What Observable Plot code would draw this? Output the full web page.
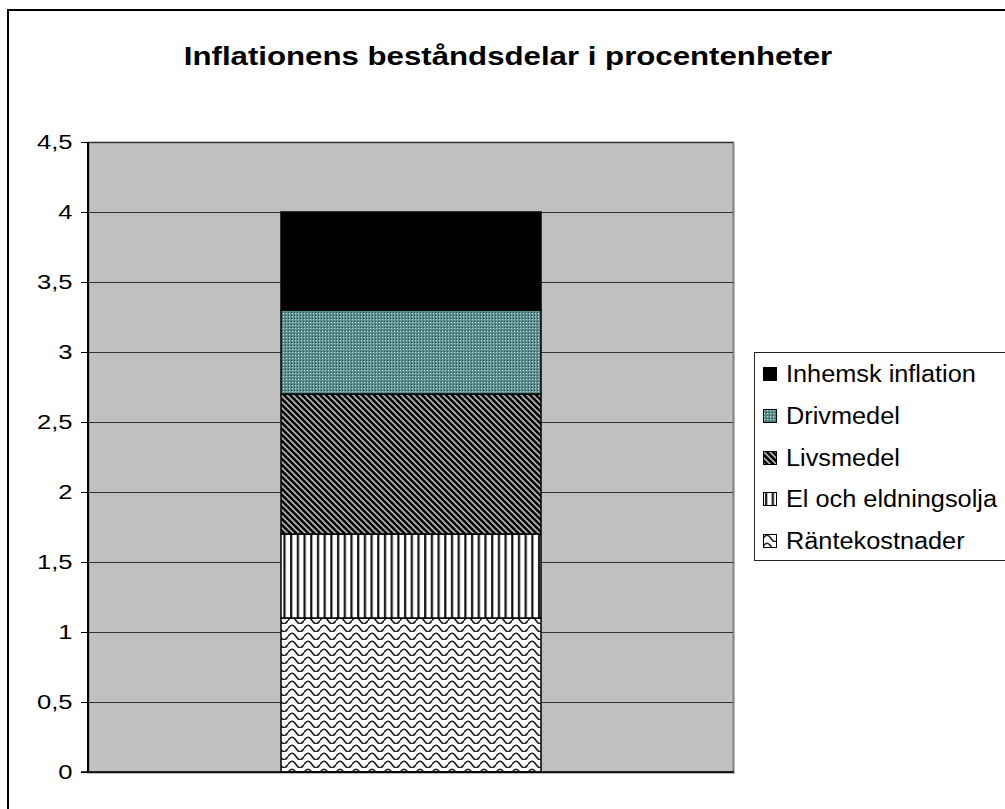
<!DOCTYPE html>
<html>
<head>
<meta charset="utf-8">
<script src="https://cdn.jsdelivr.net/npm/d3@7"></script>
<script src="https://cdn.jsdelivr.net/npm/@observablehq/plot@0.6"></script>
<style>
  html, body { margin: 0; padding: 0; background: #fff; overflow: hidden; }
  #wrap { position: relative; width: 1005px; height: 809px; overflow: hidden; font-family: "Liberation Sans", Arial, sans-serif; }
  #border { position: absolute; left: 7px; top: 9px; width: 1100px; height: 900px; border: 2px solid #000; box-sizing: border-box; pointer-events: none; }
  #title { position: absolute; left: 7px; width: 1002px; top: 40px; text-align: center; font-weight: bold; font-size: 26px; line-height: 32px; color: #000; transform: scaleX(1.2); transform-origin: 501px 0; }
  #chart { position: absolute; left: 0; top: 0; }
  #legend { position: absolute; left: 754px; top: 352px; width: 300px; height: 209px; border: 1.5px solid #222; background: #fff; box-sizing: border-box; }
  .item { position: absolute; left: 8px; height: 26px; display: flex; align-items: center; font-size: 23px; color: #000; white-space: nowrap; }
  .item svg { margin-right: 9px; flex: none; }
  .item span { display: inline-block; transform: scaleX(1.1); transform-origin: 0 50%; }
</style>
</head>
<body>
<svg width="0" height="0" style="position:absolute">
  <defs>
    <pattern id="pat-rante" patternUnits="userSpaceOnUse" width="16" height="8">
      <rect width="16" height="8" fill="#fff"/>
      <path d="M0,4.5 Q2,1.2 4,1.2 Q6,1.2 8,4.5 Q10,7.8 12,7.8 Q14,7.8 16,4.5" fill="none" stroke="#222" stroke-width="1.6"/>
    </pattern>
    <pattern id="pat-el" patternUnits="userSpaceOnUse" width="6.7" height="10">
      <rect width="6.7" height="10" fill="#fff"/>
      <rect x="2" width="2.2" height="10" fill="#111"/>
    </pattern>
    <pattern id="pat-liv" patternUnits="userSpaceOnUse" width="6" height="6">
      <rect width="6" height="6" fill="#000"/>
      <path d="M0,0 L6,6 M5,-1 L7,1 M-1,5 L1,7" stroke="#b8b8b8" stroke-width="1.6"/>
    </pattern>
    <pattern id="pat-driv" patternUnits="userSpaceOnUse" width="3" height="3">
      <rect width="3" height="3" fill="#5b8f8f"/>
      <rect x="1" y="1" width="1" height="1" fill="#c4dede"/>
      <rect x="0" y="0" width="1" height="1" fill="#2e5454"/>
    </pattern>
    <pattern id="pat-inh" patternUnits="userSpaceOnUse" width="4" height="4">
      <rect width="4" height="4" fill="#000"/>
    </pattern>
  </defs>
</svg>
<div id="wrap">
  <div id="chart"></div>
  <div id="title">Inflationens beståndsdelar i procentenheter</div>
  <div id="legend"></div>
  <div id="border"></div>
</div>
<script>
// ---- data ----
const category = "Inflation";
const series = ["Räntekostnader", "El och eldningsolja", "Livsmedel", "Drivmedel", "Inhemsk inflation"];
const values = [1.1, 0.6, 1.0, 0.6, 0.7];
const yTicks = [0, 0.5, 1, 1.5, 2, 2.5, 3, 3.5, 4, 4.5];
const patterns = ["url(#pat-rante)", "url(#pat-el)", "url(#pat-liv)", "url(#pat-driv)", "url(#pat-inh)"];

const data = series.map((s, i) => ({cat: category, series: s, value: values[i]}));
const fmt = d => String(d).replace(".", ",");

const plot = Plot.plot({
  width: 1005,
  height: 809,
  marginLeft: 88,
  marginRight: 272,
  marginTop: 142,
  marginBottom: 37,
  style: {background: "transparent", fontFamily: "'Liberation Sans', Arial, sans-serif", fontSize: "20px", color: "#000"},
  x: {domain: [category], padding: 0.425, axis: null},
  y: {domain: [0, 4.5], axis: null},
  color: {type: "ordinal", domain: series, range: patterns},
  marks: [
    Plot.frame({fill: "#c0c0c0", stroke: "#808080", strokeWidth: 2}),
    Plot.ruleY(yTicks, {stroke: "#303030", strokeWidth: 1}),
    Plot.barY(data, {x: "cat", y: "value", fill: "series", stroke: "#000", strokeWidth: 1.5}),
    Plot.axisY(yTicks, {tickSize: 7, tickPadding: 9, tickFormat: fmt, fontSize: 20, stroke: "#000", fill: "#000", label: null})
  ]
});
document.getElementById("chart").appendChild(plot);

// widen tick labels like the reference rendering
d3.select(plot).selectAll("[aria-label='y-axis tick label'] text").each(function() {
  const len = this.getComputedTextLength();
  this.setAttribute("textLength", len * 1.28);
  this.setAttribute("lengthAdjust", "spacingAndGlyphs");
});

// left axis line, through the y scale
const ys = plot.scale("y");
const svg = d3.select(plot);
svg.append("line")
  .attr("x1", 88).attr("x2", 88)
  .attr("y1", ys.apply(4.5)).attr("y2", ys.apply(0))
  .attr("stroke", "#000").attr("stroke-width", 2);
svg.append("line")
  .attr("x1", 81).attr("x2", 734)
  .attr("y1", ys.apply(0)).attr("y2", ys.apply(0))
  .attr("stroke", "#000").attr("stroke-width", 1.5);

// legend
const legend = document.getElementById("legend");
const order = series.map((s, i) => i).reverse();
const itemTops = [8, 50, 92, 133, 175];
order.forEach((idx, k) => {
  const div = document.createElement("div");
  div.className = "item";
  div.style.top = itemTops[k] + "px";
  div.innerHTML = `<svg width="14" height="14"><rect x="0.5" y="0.5" width="13" height="13" fill="${patterns[idx]}" stroke="#000" stroke-width="1"/></svg><span>${series[idx]}</span>`;
  legend.appendChild(div);
});
</script>
</body>
</html>
